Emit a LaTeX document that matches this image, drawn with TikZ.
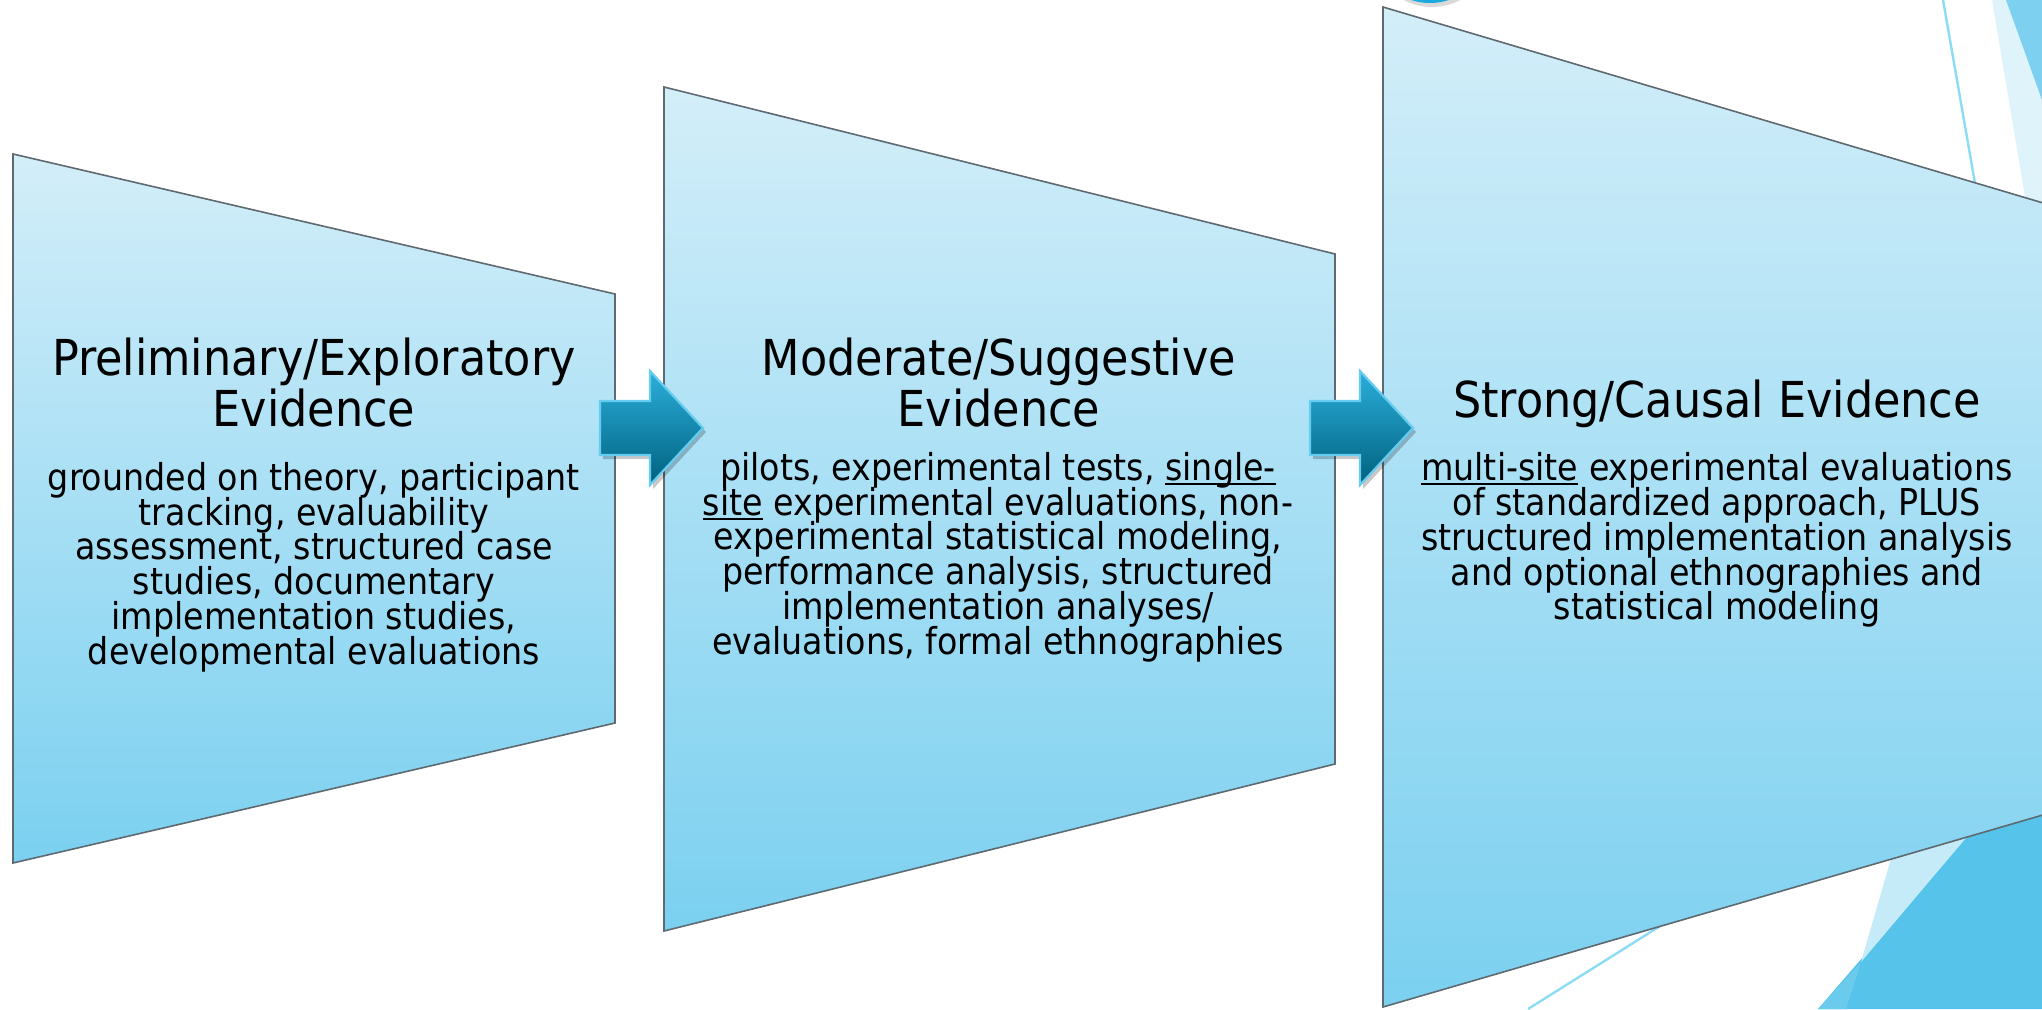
\documentclass[tikz,border=0pt]{standalone}
\usepackage{fontspec}
\setmainfont{DejaVu Sans Condensed}
\usetikzlibrary{shadows}

\definecolor{panelTop}{HTML}{D3EEF9}
\definecolor{panelBottom}{HTML}{7BD0F0}
\definecolor{panelEdge}{HTML}{5E6A70}
\definecolor{arrowTop}{HTML}{2BAEDA}
\definecolor{arrowBottom}{HTML}{00617F}
\definecolor{arrowEdge}{HTML}{66CCF0}
\definecolor{facetLine}{HTML}{8DDCF5}
\definecolor{facetPale}{HTML}{DFF3FA}
\definecolor{facetMid}{HTML}{7DD0EF}
\definecolor{facetDeep}{HTML}{55C3EA}
\definecolor{facetSoft}{HTML}{C5EAF8}
\definecolor{facetBlend}{HTML}{6ACBEC}
\definecolor{dotBlue}{HTML}{1BA8DE}

% keep the line pitch fixed even for tall lines
\setlength{\lineskiplimit}{-40pt}

% underline that sits just below the baseline
\newcommand{\undr}[1]{\setbox0\hbox{#1}\rlap{\rule[-4.5pt]{\wd0}{1.8pt}}\box0\relax}

\tikzset{
  panel/.style={draw=panelEdge, line width=1.6pt, line join=miter,
                top color=panelTop, bottom color=panelBottom},
  heading/.style={font=\fontsize{49.5}{51}\selectfont, align=center, inner sep=0pt},
  body/.style={font=\fontsize{37}{34.8}\selectfont, align=center, inner sep=0pt},
  stepflow/.style={draw=arrowEdge, line width=2.2pt, line join=miter,
                   top color=arrowTop, bottom color=arrowBottom,
                   drop shadow={shadow xshift=3pt, shadow yshift=-4pt,
                                opacity=0.22, fill=black}},
  pics/flowarrow/.style={code={
    \path[stepflow] (-50,-27) -- (0,-27) -- (0,-57) -- (53,0) -- (0,57)
                    -- (0,27) -- (-50,27) -- cycle;
  }}
}

\begin{document}
\begin{tikzpicture}[x=1pt, y=-1pt]
\useasboundingbox (0,0) rectangle (2042,1009);
\clip (0,0) rectangle (2042,1009);

% facet decorations behind the panels
\draw[facetLine, line width=2.4pt] (1943,0) -- (1980,212);
\fill[facetPale] (1992,0) -- (2042,0) -- (2042,245) -- (2033,245) -- cycle;
\fill[facetMid] (2006,0) -- (2042,0) -- (2042,100) -- cycle;
\fill[facetDeep] (1818,1009) -- (2016,780) -- (2042,760) -- (2042,1009) -- cycle;
\fill[facetSoft] (1861,962) -- (1908,800) -- (1998,800) -- cycle;
\fill[facetBlend] (1861,962) -- (1846,1009) -- (1818,1009) -- cycle;
\draw[facetLine, line width=2.4pt] (1700,901) -- (1528,1009);

% round marker at the top edge
\fill[black, opacity=0.15] (1432,-54) circle (61);
\fill[dotBlue] (1430,-57) circle (60);

% evidence panels
\coordinate (p1a) at (13,154);   \coordinate (p1b) at (615,294);
\coordinate (p1c) at (615,723);  \coordinate (p1d) at (13,863);
\coordinate (p2a) at (664,87);   \coordinate (p2b) at (1335,254);
\coordinate (p2c) at (1335,764); \coordinate (p2d) at (664,931);
\coordinate (p3a) at (1383,7);   \coordinate (p3b) at (2060,208);
\coordinate (p3c) at (2060,810); \coordinate (p3d) at (1383,1007);

\path[panel] (p1a) -- (p1b) -- (p1c) -- (p1d) -- cycle;
\path[panel] (p2a) -- (p2b) -- (p2c) -- (p2d) -- cycle;
\path[panel] (p3a) -- (p3b) -- (p3c) -- (p3d) -- cycle;

% arrows between the panels
\pic at (650,428) {flowarrow};
\pic at (1360,428) {flowarrow};

% panel texts
\node[heading] (t1) at (314,383) {Preliminary/Exploratory\\Evidence};
\node[body] (b1) at (314,567) {grounded on theory, participant\\tracking, evaluability\\assessment, structured case\\studies, documentary\\implementation studies,\\developmental evaluations};

\node[heading] (t2) at (999,383) {Moderate/Suggestive\\Evidence};
\node[body] (b2) at (998,557) {pilots, experimental tests, \undr{single-}\\\undr{site} experimental evaluations, non-\\experimental statistical modeling,\\performance analysis, structured\\implementation analyses/\\evaluations, formal ethnographies};

\node[heading] (t3) at (1717,404) {Strong/Causal Evidence};
\node[body] (b3) at (1717,540) {\undr{multi-site} experimental evaluations\\of standardized approach, PLUS\\structured implementation analysis\\and optional ethnographies and\\statistical modeling};
\end{tikzpicture}
\end{document}
